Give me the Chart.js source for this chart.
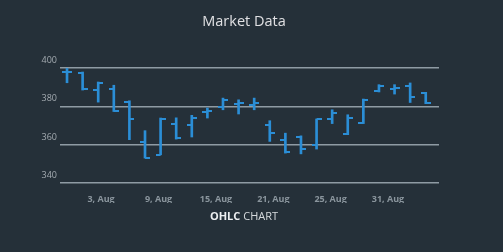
<!DOCTYPE html>
<html>
<head>
<meta charset="utf-8">
<script src="https://cdn.jsdelivr.net/npm/chart.js@4.4.1/dist/chart.umd.min.js"></script>
<style>
  body { margin: 0; background: #253039; }
  #wrap { position: relative; width: 503px; height: 252px; font-family: 'Open Sans', sans-serif; }
  #title { position: absolute; left: 0; top: 14px; width: 488px; text-align: center; font-size: 14.5px; line-height: 1; color: #e0e0e3; }
  #sub { position: absolute; left: 0; top: 210px; width: 488px; text-align: center; font-size: 11px; line-height: 1; color: #d6dadd; }
  #sub b { color: #eceef0; }
</style>
</head>
<body>
<div id="wrap">
  <canvas id="myChart" width="503" height="252"></canvas>
  <div id="title">Market Data</div>
  <div id="sub"><b>OHLC</b> CHART</div>
</div>
<script>
// one entry per trading day
var opens  = [398.0, 397.6, 388.3, 389.0, 382.5, 361.2, 354.8, 371.0, 370.4, 376.8, 379.6, 381.4,
              380.8, 370.4, 362.6, 364.2, 359.8, 373.4, 365.5, 371.2, 388.1, 389.0, 390.4, 387.0];
var highs  = [399.8, 397.9, 392.7, 391.0, 382.9, 367.3, 373.9, 374.0, 375.3, 379.1, 384.3, 383.4,
              384.3, 372.5, 366.0, 364.6, 373.4, 378.2, 375.6, 383.8, 391.3, 391.3, 392.2, 387.3];
var lows   = [392.3, 388.5, 382.2, 377.3, 362.6, 353.0, 354.7, 362.9, 364.0, 373.9, 378.2, 376.0,
              378.2, 361.7, 355.6, 355.2, 357.7, 371.0, 365.2, 371.0, 387.5, 386.4, 382.0, 381.4];
var closes = [397.8, 388.8, 392.2, 377.5, 373.4, 353.3, 373.6, 363.4, 373.9, 377.5, 383.4, 381.8,
              382.0, 366.0, 356.0, 357.7, 373.2, 376.5, 374.0, 383.4, 390.4, 389.8, 384.7, 381.8];

var tickPositions = [2.18, 5.87, 9.55, 13.23, 16.9, 20.58];
var tickLabels = ['3, Aug', '9, Aug', '15, Aug', '21, Aug', '25, Aug', '31, Aug'];

var blue = '#2b8ed6';

// little open/close ticks used as point images (left half = open, right half = close)
function tickMark(side) {
  var c = document.createElement('canvas');
  c.width = 10;
  c.height = 2;
  var g = c.getContext('2d');
  g.fillStyle = blue;
  g.fillRect(side == 'left' ? 0 : 5, 0, 5, 2);
  return c;
}

const ctx = document.getElementById('myChart');
new Chart(ctx, {
  type: 'bar',
  data: {
    datasets: [{
      label: 'High-Low',
      data: highs.map((h, i) => ({x: i, y: [lows[i], h]})),
      backgroundColor: blue,
      borderWidth: 0,
      barThickness: 2
    }, {
      type: 'scatter',
      label: 'Open',
      data: opens.map((o, i) => ({x: i, y: o})),
      pointStyle: tickMark('left'),
      showLine: false
    }, {
      type: 'scatter',
      label: 'Close',
      data: closes.map((c, i) => ({x: i, y: c})),
      pointStyle: tickMark('right'),
      showLine: false
    }]
  },
  options: {
    responsive: false,
    animation: false,
    layout: { padding: { left: 0, right: 64, top: 68, bottom: 49 } },
    plugins: {
      legend: { display: false },
      tooltip: { enabled: false }
    },
    scales: {
      x: {
        type: 'linear',
        offset: false,
        min: -0.45,
        max: 23.85,
        grid: { display: false },
        border: { display: false },
        afterBuildTicks: function(axis) {
          axis.ticks = tickPositions.map(v => ({value: v}));
        },
        afterFit: function(axis) { axis.height = 20; },
        ticks: {
          autoSkip: false,
          maxRotation: 0,
          padding: 3,
          color: '#8a959d',
          font: { family: 'Open Sans', size: 9, weight: 'bold' },
          callback: function(value, index) { return tickLabels[index]; }
        }
      },
      y: {
        min: 340,
        max: 400,
        grid: { color: '#8f9ba4', lineWidth: 1.5, drawTicks: false },
        border: { display: false },
        afterFit: function(axis) { axis.width = 60; },
        ticks: {
          stepSize: 20,
          padding: 3,
          labelOffset: -7.5,
          color: '#a3aab0',
          font: { family: 'Open Sans', size: 9 }
        }
      }
    }
  }
});
</script>
</body>
</html>
